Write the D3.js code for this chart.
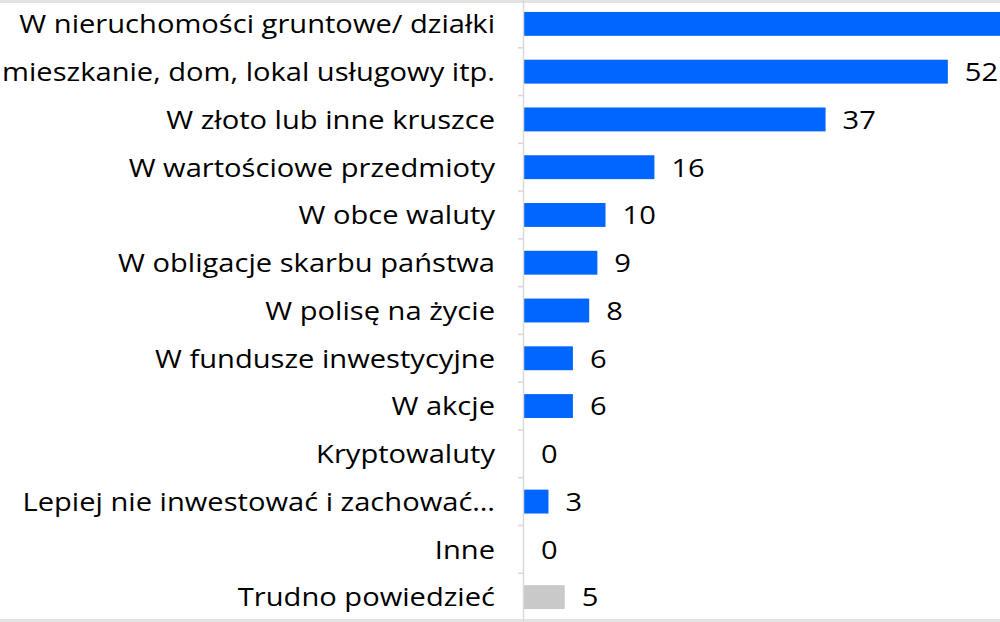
<!DOCTYPE html>
<html>
<head>
<meta charset="utf-8">
<script src="https://cdn.jsdelivr.net/npm/d3@7"></script>
<style>
  html, body { margin: 0; padding: 0; background: #fff; overflow: hidden; }
  svg { display: block; }
</style>
</head>
<body>
<svg id="chart" width="1000" height="622"></svg>
<script>
// survey answers, percent
const categories = [
  "W nieruchomości gruntowe/ działki",
  "W mieszkanie, dom, lokal usługowy itp.",
  "W złoto lub inne kruszce",
  "W wartościowe przedmioty",
  "W obce waluty",
  "W obligacje skarbu państwa",
  "W polisę na życie",
  "W fundusze inwestycyjne",
  "W akcje",
  "Kryptowaluty",
  "Lepiej nie inwestować i zachować…",
  "Inne",
  "Trudno powiedzieć"
];
const values = [61, 52, 37, 16, 10, 9, 8, 6, 6, 0, 3, 0, 5];
const isNeutral = [false, false, false, false, false, false, false, false, false, false, false, false, true];

const svg = d3.select("#chart");
const width = 1000, height = 622;
const margin = { top: 0, right: 0, bottom: 1, left: 524 };
const font = "'Open Sans', Lato, sans-serif";
const stretch = 1.12; // source picture is a bit wider than tall

const x = d3.scaleLinear()
  .domain([0, 58.4])
  .range([margin.left, width]);

const y = d3.scaleBand()
  .domain(categories)
  .range([margin.top, height - margin.bottom])
  .paddingInner(0.5)
  .paddingOuter(0.25);

// thin grey frame edges top and bottom
svg.append("rect").attr("x", 0).attr("y", 0).attr("width", width).attr("height", 3).attr("fill", "#e3e3e3");
svg.append("rect").attr("x", 0).attr("y", height - 3).attr("width", width).attr("height", 3).attr("fill", "#e3e3e3");

// bars
svg.append("g")
  .selectAll("rect")
  .data(values)
  .join("rect")
  .attr("x", x(0))
  .attr("y", (d, i) => y(categories[i]))
  .attr("width", d => x(d) - x(0))
  .attr("height", y.bandwidth())
  .attr("fill", (d, i) => isNeutral[i] ? "#c9c9c9" : "#0066ff");

// axis line + tick marks between categories
const axis = svg.append("g");
axis.append("line")
  .attr("x1", x(0) - 0.5).attr("x2", x(0) - 0.5)
  .attr("y1", 0).attr("y2", height)
  .attr("stroke", "#d9d9d9").attr("stroke-width", 1.5);
axis.selectAll(".tick")
  .data(categories.slice(1))
  .join("line")
  .attr("x1", x(0) - 6).attr("x2", x(0))
  .attr("y1", d => y(d) - y.step() * y.paddingInner() / 2)
  .attr("y2", d => y(d) - y.step() * y.paddingInner() / 2)
  .attr("stroke", "#d9d9d9").attr("stroke-width", 1.5);

// category labels
svg.append("g")
  .selectAll("text")
  .data(categories)
  .join("text")
  .attr("transform", d => `translate(${x(0) - 29},${y(d) + y.bandwidth() / 2}) scale(${stretch},1)`)
  .attr("dy", "0.36em")
  .attr("text-anchor", "end")
  .attr("font-family", font)
  .attr("font-size", 26)
  .attr("fill", "#000")
  .text(d => d);

// value labels (the first one falls past the right edge, as in the source)
svg.append("g")
  .selectAll("text")
  .data(values)
  .join("text")
  .attr("transform", (d, i) => `translate(${x(d) + 17},${y(categories[i]) + y.bandwidth() / 2}) scale(${stretch},1)`)
  .attr("dy", "0.36em")
  .attr("font-family", font)
  .attr("font-size", 26)
  .attr("fill", "#000")
  .text(d => d);
</script>
</body>
</html>
